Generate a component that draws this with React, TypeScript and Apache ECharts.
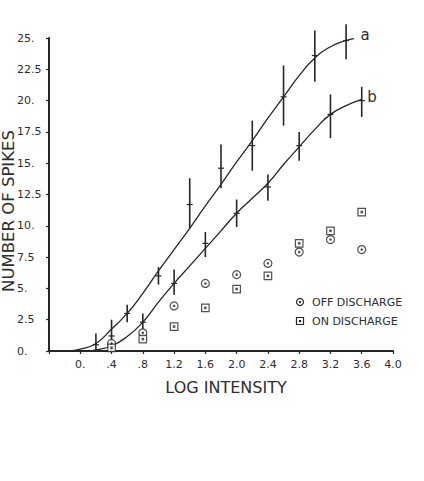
import React, { useEffect, useRef } from "react";
import * as echarts from "echarts";

// Tick labels
const xTickLabels = ["", "0.", ".4", ".8", "1.2", "1.6", "2.0", "2.4", "2.8", "3.2", "3.6", "4.0"];
const yTickLabels = ["0.", "2.5", "5.", "7.5", "10.", "12.5", "15.", "17.5", "20.", "22.5", "25."];

// Fitted curve a
const curveAX = [-0.15, 0, 0.2, 0.4, 0.6, 0.8, 1.0, 1.2, 1.4, 1.6, 1.8, 2.0, 2.2, 2.4, 2.6, 2.8, 3.0, 3.2, 3.4, 3.5];
const curveAY = [0, 0.15, 0.6, 1.75, 3.0, 4.6, 6.4, 8.1, 9.8, 11.6, 13.3, 15.1, 16.8, 18.6, 20.3, 22.0, 23.4, 24.3, 24.8, 24.95];

// Fitted curve b
const curveBX = [0.1, 0.2, 0.4, 0.6, 0.8, 1.0, 1.2, 1.4, 1.6, 1.8, 2.0, 2.2, 2.4, 2.6, 2.8, 3.0, 3.2, 3.4, 3.6];
const curveBY = [0, 0.08, 0.4, 1.15, 2.3, 3.9, 5.4, 6.8, 8.2, 9.6, 11.0, 12.2, 13.4, 14.9, 16.3, 17.7, 18.9, 19.6, 20.1];

// Error bars for curve a: x, mean, low, high
const barsAX = [0.2, 0.6, 1.0, 1.4, 1.8, 2.2, 2.6, 3.0, 3.4];
const barsAMean = [0.5, 3.0, 6.0, 11.7, 14.6, 16.4, 20.3, 23.6, 24.8];
const barsALow = [0.0, 2.3, 5.3, 9.8, 13.0, 14.4, 18.0, 21.5, 23.3];
const barsAHigh = [1.4, 3.7, 6.7, 13.8, 16.5, 18.4, 22.8, 25.6, 26.1];

// Error bars for curve b
const barsBX = [0.4, 0.8, 1.2, 1.6, 2.0, 2.4, 2.8, 3.2, 3.6];
const barsBMean = [1.2, 2.3, 5.4, 8.6, 11.0, 13.1, 16.4, 18.9, 20.0];
const barsBLow = [0.0, 1.7, 4.5, 7.5, 9.9, 12.0, 15.2, 17.0, 18.7];
const barsBHigh = [2.5, 3.0, 6.5, 9.5, 12.1, 14.1, 17.5, 20.5, 21.1];

// Discharge points
const dischargeX = [0.4, 0.8, 1.2, 1.6, 2.0, 2.4, 2.8, 3.2, 3.6];
const offDischarge = [0.6, 1.45, 3.6, 5.4, 6.1, 7.0, 7.9, 8.9, 8.1];
const onDischarge = [0.25, 0.95, 1.95, 3.45, 4.95, 6.0, 8.6, 9.6, 11.1];

const INK = "#262626";
const TEXT = "#2e2e2e";
const FONT = "DejaVu Sans";

function zip(xs: number[], ys: number[]) {
  return xs.map((x, i) => [x, ys[i]]);
}

function barData(xs: number[], m: number[], lo: number[], hi: number[]) {
  return xs.map((x, i) => [x, m[i], lo[i], hi[i]]);
}

const renderBar = (params: any, api: any) => {
  const x = api.value(0);
  const pM = api.coord([x, api.value(1)]);
  const pLo = api.coord([x, api.value(2)]);
  const pHi = api.coord([x, api.value(3)]);
  return {
    type: "group",
    children: [
      {
        type: "line",
        shape: { x1: pLo[0], y1: pLo[1], x2: pHi[0], y2: pHi[1] },
        style: { stroke: INK, lineWidth: 1.6 },
      },
      {
        type: "line",
        shape: { x1: pM[0] - 3, y1: pM[1], x2: pM[0] + 3, y2: pM[1] },
        style: { stroke: INK, lineWidth: 1.2 },
      },
    ],
  };
};

export default function App() {
  const ref = useRef<HTMLDivElement>(null);

  useEffect(() => {
    if (!ref.current) return;
    const chart = echarts.init(ref.current, undefined, { renderer: "svg" });
    const option: any = {
      animation: false,
      backgroundColor: "#ffffff",
      grid: { left: 49, right: 31, top: 38, bottom: 130 },
      xAxis: {
        type: "value",
        min: -0.4,
        max: 4.0,
        interval: 0.4,
        axisLine: { show: true, lineStyle: { color: INK, width: 2 } },
        axisTick: { show: true, length: 3, lineStyle: { color: INK, width: 1.2 } },
        splitLine: { show: false },
        axisLabel: {
          margin: 8,
          color: TEXT,
          fontFamily: FONT,
          fontSize: 11,
          formatter: (v: number) => xTickLabels[Math.round((v + 0.4) / 0.4)] ?? "",
        },
      },
      yAxis: {
        type: "value",
        min: 0,
        max: 25,
        interval: 2.5,
        axisLine: { show: true, onZero: false, lineStyle: { color: INK, width: 2 } },
        axisTick: { show: true, length: 3, lineStyle: { color: INK, width: 1.2 } },
        splitLine: { show: false },
        axisLabel: {
          margin: 32,
          align: "left",
          color: TEXT,
          fontFamily: FONT,
          fontSize: 11,
          formatter: (v: number) => yTickLabels[Math.round(v / 2.5)] ?? "",
        },
      },
      series: [
        {
          type: "line",
          data: zip(curveAX, curveAY),
          smooth: 0.5,
          showSymbol: false,
          lineStyle: { color: INK, width: 1.3 },
          z: 2,
        },
        {
          type: "line",
          data: zip(curveBX, curveBY),
          smooth: 0.5,
          showSymbol: false,
          lineStyle: { color: INK, width: 1.3 },
          z: 2,
        },
        {
          type: "custom",
          renderItem: renderBar,
          data: barData(barsAX, barsAMean, barsALow, barsAHigh),
          encode: { x: 0, y: [1, 2, 3] },
          clip: false,
          z: 3,
        },
        {
          type: "custom",
          renderItem: renderBar,
          data: barData(barsBX, barsBMean, barsBLow, barsBHigh),
          encode: { x: 0, y: [1, 2, 3] },
          clip: false,
          z: 3,
        },
        {
          type: "scatter",
          name: "OFF DISCHARGE",
          data: zip(dischargeX, offDischarge),
          symbol: "circle",
          symbolSize: 8,
          itemStyle: { color: "#ffffff", borderColor: INK, borderWidth: 1.2 },
          z: 4,
        },
        {
          type: "scatter",
          data: zip(dischargeX, offDischarge),
          symbol: "circle",
          symbolSize: 2.5,
          itemStyle: { color: INK },
          z: 5,
        },
        {
          type: "scatter",
          name: "ON DISCHARGE",
          data: zip(dischargeX, onDischarge),
          symbol: "rect",
          symbolSize: 7.5,
          itemStyle: { color: "#ffffff", borderColor: INK, borderWidth: 1.2 },
          z: 4,
        },
        {
          type: "scatter",
          data: zip(dischargeX, onDischarge),
          symbol: "rect",
          symbolSize: 2.5,
          itemStyle: { color: INK },
          z: 5,
        },
      ],
      graphic: [
        {
          type: "text",
          x: 8,
          y: 211,
          rotation: Math.PI / 2,
          style: {
            text: "NUMBER OF SPIKES",
            fill: TEXT,
            font: `16.5px ${FONT}`,
            align: "center",
            verticalAlign: "middle",
          },
        },
        {
          type: "text",
          x: 226,
          y: 387,
          style: {
            text: "LOG INTENSITY",
            fill: TEXT,
            font: `16px ${FONT}`,
            align: "center",
            verticalAlign: "middle",
          },
        },
        {
          type: "text",
          x: 365,
          y: 35,
          style: { text: "a", fill: TEXT, font: `15px ${FONT}`, align: "center", verticalAlign: "middle" },
        },
        {
          type: "text",
          x: 372,
          y: 97,
          style: { text: "b", fill: TEXT, font: `15px ${FONT}`, align: "center", verticalAlign: "middle" },
        },
        {
          type: "circle",
          shape: { cx: 300, cy: 302, r: 3.5 },
          style: { fill: "#ffffff", stroke: INK, lineWidth: 1.2 },
        },
        {
          type: "circle",
          shape: { cx: 300, cy: 302, r: 1.2 },
          style: { fill: INK },
        },
        {
          type: "text",
          x: 312,
          y: 302,
          style: { text: "OFF DISCHARGE", fill: TEXT, font: `11px ${FONT}`, verticalAlign: "middle" },
        },
        {
          type: "rect",
          shape: { x: 296.5, y: 317.5, width: 7, height: 7 },
          style: { fill: "#ffffff", stroke: INK, lineWidth: 1.2 },
        },
        {
          type: "rect",
          shape: { x: 299, y: 320, width: 2.2, height: 2.2 },
          style: { fill: INK },
        },
        {
          type: "text",
          x: 312,
          y: 321,
          style: { text: "ON DISCHARGE", fill: TEXT, font: `11px ${FONT}`, verticalAlign: "middle" },
        },
      ],
    };
    chart.setOption(option);
    return () => chart.dispose();
  }, []);

  return (
    <div
      ref={ref}
      style={{ position: "fixed", left: 0, top: 0, width: 424, height: 481, background: "#fff" }}
    />
  );
}
